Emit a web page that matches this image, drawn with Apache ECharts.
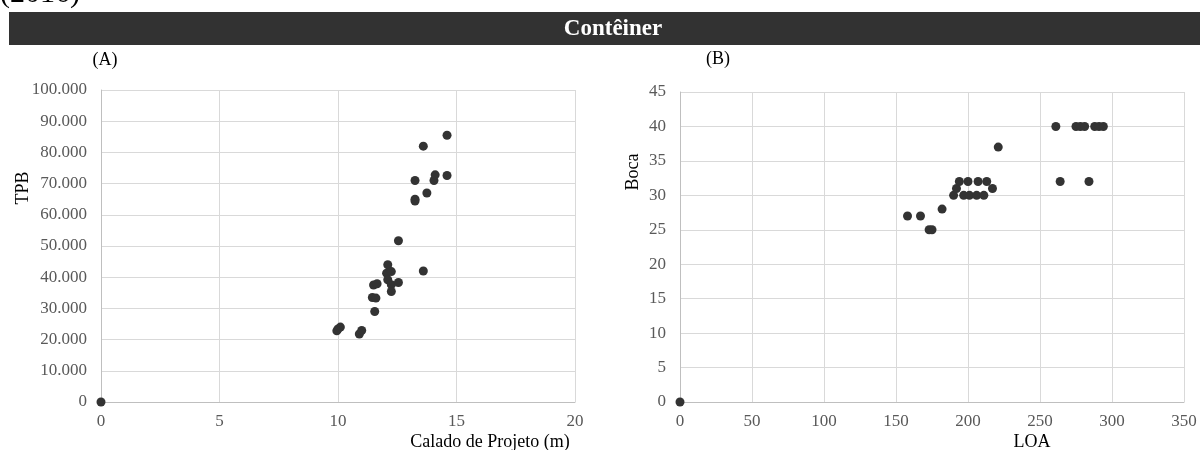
<!DOCTYPE html>
<html>
<head>
<meta charset="utf-8">
<script src="https://cdn.jsdelivr.net/npm/echarts@6/dist/echarts.min.js"></script>
<style>
  html, body { margin: 0; padding: 0; background: #fff; }
  #chart { width: 1200px; height: 450px; }
</style>
</head>
<body>
<div id="chart"></div>
<script>
// Panel (A): design draft (m) vs deadweight (TPB)
const calado = [0, 10.0, 10.1, 9.95, 10.9, 11.0, 11.55, 11.45, 11.6, 11.5, 11.65, 12.1, 12.05, 12.25, 12.1, 12.25, 12.25, 12.55, 12.55, 13.6, 13.25, 13.25, 13.25, 13.75, 14.05, 14.1, 14.6, 13.6, 14.6];
const tpb = [0, 23400, 24000, 22800, 21800, 22900, 29000, 33500, 33300, 37500, 37900, 44000, 41300, 41800, 39200, 37600, 35400, 38300, 51700, 42000, 71000, 65000, 64400, 67000, 71000, 72800, 72600, 82000, 85500];

// Panel (B): length overall vs beam
const loa = [0, 158, 167, 173, 175, 182, 190, 192, 194, 197, 200, 201, 206, 207, 211, 213, 217, 221, 261, 264, 275, 278, 281, 284, 288, 291, 294];
const boca = [0, 27, 27, 25, 25, 28, 30, 31, 32, 30, 32, 30, 30, 32, 30, 32, 31, 37, 40, 32, 40, 40, 40, 32, 40, 40, 40];

const SERIF = '"Liberation Serif", "DejaVu Serif", serif';
const TICK = { fontFamily: SERIF, fontSize: 17, color: '#595959' };
const GRID_LINE = { show: true, lineStyle: { color: '#d9d9d9', width: 1 } };
const AXIS_LINE = { show: true, lineStyle: { color: '#bfbfbf', width: 1 } };

function fmtThousands(v) {
  return String(Math.round(v)).replace(/\B(?=(\d{3})+(?!\d))/g, '.');
}

function valueAxis(gridIndex, min, max, interval, margin, formatter) {
  return {
    type: 'value', gridIndex, min, max, interval,
    axisLine: AXIS_LINE,
    axisTick: { show: false },
    splitLine: GRID_LINE,
    axisLabel: Object.assign({ margin, formatter }, TICK)
  };
}

const pairs = (xs, ys) => xs.map((x, i) => [x, ys[i]]);

const chart = echarts.init(document.getElementById('chart'), null, { renderer: 'canvas' });

const titleText = (text, x, y, opts) => Object.assign({
  type: 'text', x, y,
  style: Object.assign({
    text, fontFamily: SERIF, fontSize: 18, fill: '#000',
    align: 'center', verticalAlign: 'middle'
  }, opts && opts.style || {})
}, opts && opts.extra || {});

chart.setOption({
  animation: false,
  backgroundColor: '#fff',
  grid: [
    { left: 101, top: 90, width: 474, height: 312 },
    { left: 680, top: 92, width: 504, height: 310 }
  ],
  xAxis: [
    valueAxis(0, 0, 20, 5, 11),
    valueAxis(1, 0, 350, 50, 11)
  ],
  yAxis: [
    valueAxis(0, 0, 100000, 10000, 14, fmtThousands),
    valueAxis(1, 0, 45, 5, 14)
  ],
  series: [
    {
      type: 'scatter', xAxisIndex: 0, yAxisIndex: 0,
      data: pairs(calado, tpb),
      symbolSize: 9,
      itemStyle: { color: '#333333', opacity: 1 }
    },
    {
      type: 'scatter', xAxisIndex: 1, yAxisIndex: 1,
      data: pairs(loa, boca),
      symbolSize: 9,
      itemStyle: { color: '#333333', opacity: 1 }
    }
  ],
  graphic: [
    // year caption at the top-left edge
    { type: 'text', x: 0, y: 9, style: { text: '(2016)', fontFamily: SERIF, fontSize: 30, fill: '#000', align: 'left', verticalAlign: 'bottom' } },
    // header band
    { type: 'rect', shape: { x: 9, y: 12, width: 1191, height: 33 }, style: { fill: '#323232' } },
    titleText('Contêiner', 613, 29, { style: { fill: '#ffffff', fontWeight: 'bold', fontSize: 23 } }),
    // panel labels
    titleText('(A)', 105, 60),
    titleText('(B)', 718, 59),
    // axis titles
    titleText('Calado de Projeto (m)', 490, 442),
    titleText('LOA', 1032, 442),
    titleText('TPB', 23, 188, { extra: { rotation: Math.PI / 2 } }),
    titleText('Boca', 633, 172, { extra: { rotation: Math.PI / 2 } })
  ]
});
</script>
</body>
</html>
